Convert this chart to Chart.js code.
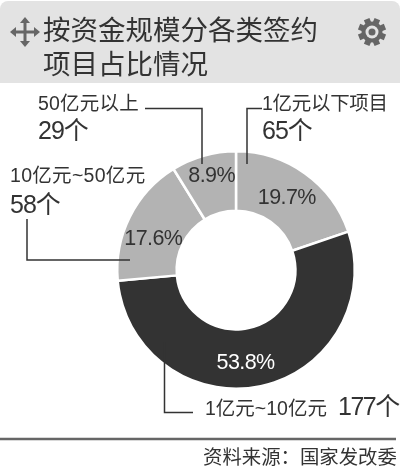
<!DOCTYPE html>
<html lang="zh">
<head>
<meta charset="utf-8">
<title>按资金规模分各类签约项目占比情况</title>
<script src="https://cdn.jsdelivr.net/npm/chart.js@4"></script>
<style>
  html, body { margin: 0; padding: 0; background: #fff; }
  canvas { display: block; }
</style>
</head>
<body>
<canvas id="myChart" width="400" height="471"></canvas>
<script>
const categories = ["1亿元以下项目", "1亿元~10亿元", "10亿元~50亿元", "50亿元以上"];
const projectCounts = [65, 177, 58, 29];
const shareLabels = ["19.7%", "53.8%", "17.6%", "8.9%"];
const titleLines = ["按资金规模分各类签约", "项目占比情况"];
const sourceNote = "资料来源：国家发改委";

const LATIN_CJK = '"Liberation Sans", "Noto Sans CJK SC", sans-serif';
const INK = "#333";

function put(ctx, text, x, y, size, color, spacing) {
  ctx.font = size + "px " + LATIN_CJK;
  ctx.fillStyle = color || INK;
  ctx.letterSpacing = (spacing || 0) + "px";
  ctx.textAlign = "left";
  ctx.textBaseline = "middle";
  ctx.fillText(text, x, y);
  ctx.letterSpacing = "0px";
}

function polyline(ctx, pts) {
  ctx.beginPath();
  pts.forEach((p, i) => (i ? ctx.lineTo(p[0], p[1]) : ctx.moveTo(p[0], p[1])));
  ctx.stroke();
}

function drawMoveIcon(ctx, cx, cy) {
  ctx.save();
  ctx.strokeStyle = "#666";
  ctx.fillStyle = "#666";
  ctx.lineWidth = 3;
  polyline(ctx, [[cx - 12, cy], [cx + 12, cy]]);
  polyline(ctx, [[cx, cy - 12], [cx, cy + 12]]);
  [0, 1, 2, 3].forEach((q) => {
    ctx.save();
    ctx.translate(cx, cy);
    ctx.rotate((q * Math.PI) / 2);
    ctx.beginPath();
    ctx.moveTo(15, 0);
    ctx.lineTo(9, -5);
    ctx.lineTo(9, 5);
    ctx.closePath();
    ctx.fill();
    ctx.restore();
  });
  ctx.restore();
}

function drawGear(ctx, cx, cy) {
  ctx.save();
  ctx.translate(cx, cy);
  ctx.fillStyle = "#666";
  for (let i = 0; i < 8; i++) {
    ctx.save();
    ctx.rotate((i * Math.PI) / 4 + Math.PI / 8);
    ctx.fillRect(-3, -14, 6, 6);
    ctx.restore();
  }
  ctx.beginPath();
  ctx.arc(0, 0, 10.5, 0, Math.PI * 2);
  ctx.fill();
  ctx.fillStyle = "#e3e3e3";
  ctx.beginPath();
  ctx.arc(0, 0, 6.5, 0, Math.PI * 2);
  ctx.fill();
  ctx.fillStyle = "#666";
  ctx.beginPath();
  ctx.arc(0, 0, 3.5, 0, Math.PI * 2);
  ctx.fill();
  ctx.restore();
}

// header band, goes under everything
const headerBand = {
  id: "headerBand",
  beforeDraw(chart) {
    const ctx = chart.ctx;
    ctx.save();
    ctx.fillStyle = "#e3e3e3";
    ctx.beginPath();
    ctx.roundRect(0, 1, 400, 82, [8, 8, 0, 0]);
    ctx.fill();
    ctx.restore();
  },
};

// title, callouts, leader lines, percent labels, footer
const annotations = {
  id: "annotations",
  afterDatasetsDraw(chart) {
    const ctx = chart.ctx;
    ctx.save();

    drawMoveIcon(ctx, 25, 32);
    drawGear(ctx, 372, 32);
    put(ctx, titleLines[0], 43, 32, 27.5);
    put(ctx, titleLines[1], 43, 66, 27.5);

    ctx.strokeStyle = INK;
    ctx.lineWidth = 1.5;
    polyline(ctx, [[145, 108.5], [202, 108.5], [202, 164]]);
    polyline(ctx, [[262, 108.5], [247, 108.5], [247, 164]]);
    polyline(ctx, [[27, 219], [27, 260], [130, 260]]);
    polyline(ctx, [[164.5, 342], [164.5, 412.5], [193, 412.5]]);

    put(ctx, categories[3], 38, 105, 19.5, INK, 0.2);
    put(ctx, projectCounts[3] + "个", 38, 132, 25, INK, -1);
    put(ctx, categories[0], 262, 105, 19.5, INK, -0.3);
    put(ctx, projectCounts[0] + "个", 262, 132, 25, INK, -1);
    put(ctx, categories[2], 10, 177, 19.5, INK, 0.3);
    put(ctx, projectCounts[2] + "个", 10, 206, 25, INK, -1);
    put(ctx, categories[1], 205, 410, 19.5, INK, 0);
    put(ctx, projectCounts[1] + "个", 338, 408, 25, INK, -1.5);

    // nudges off the arc centre, the source labels don't sit exactly mid-ring
    const nudge = [[-1, 1], [-9, 6], [-3, 9], [0, -8]];
    const arcs = chart.getDatasetMeta(0).data;
    arcs.forEach((arc, i) => {
      const p = arc.tooltipPosition();
      ctx.font = "21.5px " + LATIN_CJK;
      ctx.letterSpacing = "-0.6px";
      const w = ctx.measureText(shareLabels[i]).width;
      put(ctx, shareLabels[i], p.x + nudge[i][0] - w / 2, p.y + nudge[i][1], 21.5,
        i === 1 ? "#fff" : INK, -0.6);
    });

    ctx.strokeStyle = "#666";
    ctx.lineWidth = 2.5;
    polyline(ctx, [[0, 439], [396, 439]]);
    put(ctx, sourceNote, 203, 459, 19.4);

    ctx.restore();
  },
};

const ctx = document.getElementById("myChart");
// eslint-disable-next-line no-unused-vars
const myChart = new Chart(ctx, {
  type: "doughnut",
  data: {
    labels: categories,
    datasets: [
      {
        data: projectCounts,
        backgroundColor: ["#b3b3b3", "#333333", "#b3b3b3", "#b3b3b3"],
        borderColor: "#fff",
        borderWidth: 2.5,
        hoverBorderWidth: 2.5,
      },
    ],
  },
  options: {
    responsive: false,
    animation: false,
    cutout: "50%",
    layout: { padding: { left: 116, right: 44, top: 150, bottom: 81 } },
    plugins: {
      legend: { display: false },
      tooltip: { enabled: false },
    },
  },
  plugins: [headerBand, annotations],
});
</script>
</body>
</html>
